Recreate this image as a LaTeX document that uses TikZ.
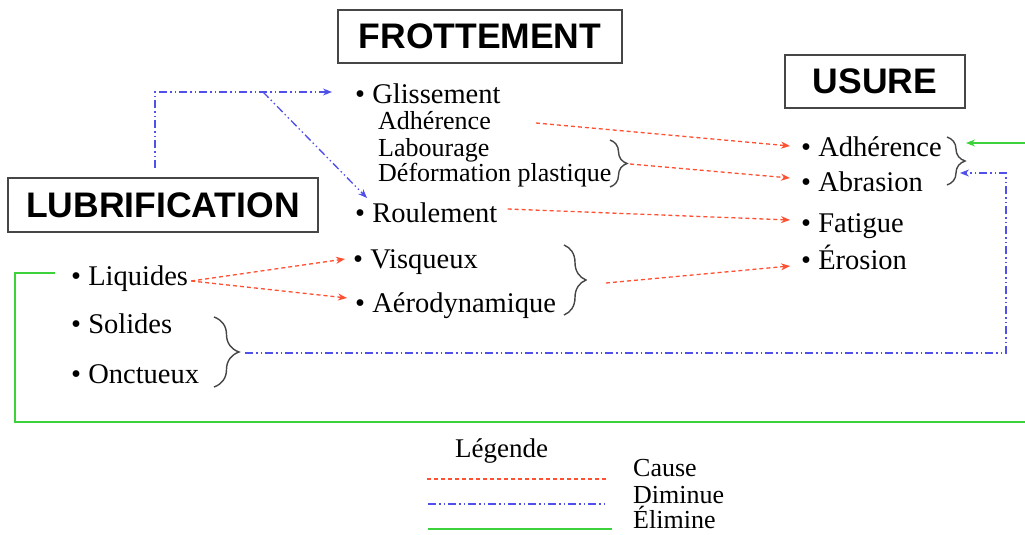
\documentclass[tikz,border=0pt]{standalone}
\usepackage{fontspec}
\setmainfont{Liberation Serif}
\newfontfamily\titlefont{Liberation Sans}
\usetikzlibrary{arrows.meta,decorations.pathreplacing,calc}
\definecolor{causec}{RGB}{255,80,50}
\definecolor{dimc}{RGB}{80,80,235}
\definecolor{elimc}{RGB}{60,210,60}
\definecolor{boxc}{RGB}{70,70,70}
\tikzset{
  titlebox/.style={draw=boxc, line width=1.4pt, inner sep=0pt, align=center,
    font=\titlefont\bfseries\fontsize{35.5}{36}\selectfont},
  itemtext/.style={anchor=base west, inner sep=0pt, text height=22pt, text depth=4pt,
    font=\fontsize{28.5}{30}\selectfont},
  subtext/.style={anchor=base west, inner sep=0pt, text height=22pt, text depth=4pt,
    font=\fontsize{26}{28}\selectfont},
  legtext/.style={anchor=base west, inner sep=0pt, font=\fontsize{26}{28}\selectfont},
  tip/.style={-{Stealth[length=9pt,width=7pt]}},
  cause/.style={draw=causec, line width=1.3pt, dash pattern=on 4pt off 3pt},
  dimin/.style={draw=dimc, line width=1.3pt, dash pattern=on 8pt off 3pt on 1.5pt off 3pt on 1.5pt off 3pt},
  elim/.style={draw=elimc, line width=1.3pt},
  bracket/.style={draw=boxc, line width=1.4pt, decorate},
}
\begin{document}
\begin{tikzpicture}[x=1pt,y=-1pt]
\useasboundingbox[fill=white] (0,0) rectangle (1025,535);

% title boxes
\node[titlebox, minimum width=284pt, minimum height=53pt] (frot) at (480,36.5) {FROTTEMENT};
\node[titlebox, minimum width=180pt, minimum height=53pt] (usure) at (875,81.5) {USURE};
\node[titlebox, minimum width=310pt, minimum height=54pt] (lub) at (163,205) {LUBRIFICATION};

% frottement items
\node[itemtext] (glis) at (355,103) {\textbullet\ Glissement};
\node[subtext] (adh1) at (378,129) {Adhérence};
\node[subtext] (lab) at (378,156) {Labourage};
\node[subtext] (def) at (378,181) {Déformation plastique};
\node[itemtext] (roul) at (355,222) {\textbullet\ Roulement};
\node[itemtext] (visq) at (353,268) {\textbullet\ Visqueux};
\node[itemtext] (aero) at (355,312) {\textbullet\ Aérodynamique};

% lubrification items
\node[itemtext] (liq) at (71,285) {\textbullet\ Liquides};
\node[itemtext] (sol) at (71,333) {\textbullet\ Solides};
\node[itemtext] (onc) at (71,383) {\textbullet\ Onctueux};

% usure items
\node[itemtext] (uadh) at (801,156) {\textbullet\ Adhérence};
\node[itemtext] (uabr) at (801,191) {\textbullet\ Abrasion};
\node[itemtext] (ufat) at (801,232) {\textbullet\ Fatigue};
\node[itemtext] (uero) at (801,269) {\textbullet\ Érosion};

% braces
\draw[bracket, decoration={brace, amplitude=17pt}] (610,140) -- (610,187);
\draw[bracket, decoration={brace, amplitude=22pt}] (564,245) -- (564,315);
\draw[bracket, decoration={brace, amplitude=25pt}] (214,317) -- (214,387);
\draw[bracket, decoration={brace, amplitude=18pt}] (947,137) -- (947,185);
\coordinate (fbt) at (630,164);
\coordinate (vbt) at (606,283);
\coordinate (sbt) at (245,353);
\coordinate (ubt) at (966,143);
\coordinate (ubt2) at (960,173);

% cause connectors
\draw[cause, tip] ([xshift=45pt,yshift=-3pt]adh1.east) -- ([xshift=-11pt,yshift=1pt]uadh.west);
\draw[cause, tip] (fbt) -- ([xshift=-11pt,yshift=4pt]uabr.west);
\draw[cause, tip] ([xshift=10pt,yshift=4pt]roul.east) -- ([xshift=-11pt,yshift=3pt]ufat.west);
\draw[cause, tip] (vbt) -- ([xshift=-11pt,yshift=-6pt]uero.west);
\draw[cause, tip] ([xshift=3pt,yshift=-5pt]liq.east) -- ([xshift=-8pt]visq.west);
\draw[cause, tip] ([xshift=3pt,yshift=-5pt]liq.east) -- ([xshift=-8pt,yshift=5pt]aero.west);

% diminue connectors
\coordinate (bstart) at (155,168);
\coordinate (b1) at (155,92);
\coordinate (b2) at (263,92);
\coordinate (bc1) at (1006,353);
\coordinate (bc2) at (1006,173);
\draw[dimin, tip] (bstart) -- (b1) -- ([xshift=-23pt,yshift=2pt]glis.west);
\draw[dimin, tip] (b2) -- ([xshift=12pt,yshift=15pt]roul.west);
\draw[dimin, tip] (sbt) -- (bc1) -- (bc2) -- (ubt2);

% elimine connectors
\coordinate (g1) at (15,422);
\coordinate (g2) at (1025,422);
\coordinate (gr) at (1025,143);
\draw[elim] ([xshift=-16pt,yshift=3pt]liq.west) -| (g1) -- (g2);
\draw[elim, tip] (gr) -- (ubt);

% legend
\node[legtext, font=\fontsize{27}{28}\selectfont] (leg) at (455,457) {Légende};
\coordinate (lc1) at (427,479); \coordinate (lc2) at (608,479);
\coordinate (ld1) at (428,504); \coordinate (ld2) at (607,504);
\coordinate (le1) at (428,529); \coordinate (le2) at (612,529);
\draw[cause] (lc1) -- (lc2);
\draw[dimin] (ld1) -- (ld2);
\draw[elim] (le1) -- (le2);
\node[legtext] (lcause) at (633,476) {Cause};
\node[legtext] (ldim) at (633,503) {Diminue};
\node[legtext] (lelim) at (633,528) {Élimine};
\end{tikzpicture}
\end{document}
